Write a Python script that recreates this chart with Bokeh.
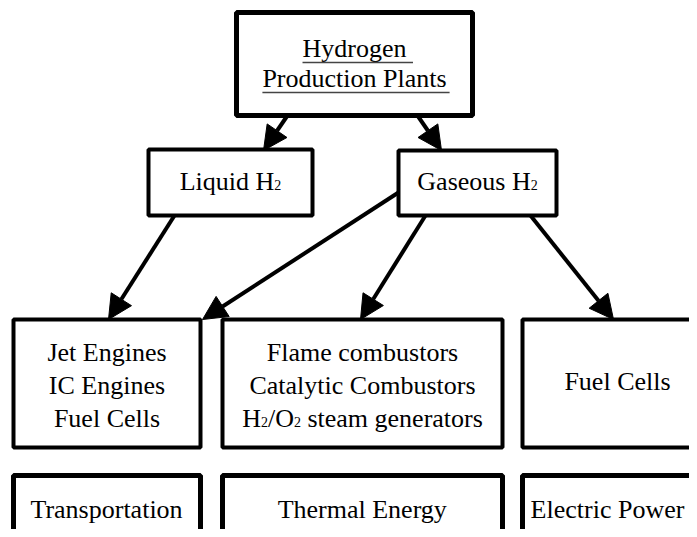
from bokeh.plotting import figure
from bokeh.models import Range1d, Arrow, NormalHead, ColumnDataSource
from bokeh.core.properties import value
from bokeh.embed import file_html
from bokeh.resources import INLINE

FONT = "Liberation Serif"
FS = 26      # main text size, px
SUB = 14     # subscript size, px
FIG_W, FIG_H = 689, 529
BASE_SHIFT = -9   # svg alphabetic baseline correction (main text)
SUB_SHIFT = -6    # same for subscripts

# ---- diagram content ----
node_names = ["top", "liquid", "gaseous", "jet", "comb", "fc",
              "transport", "thermal", "electric"]
node_lines = [
    ["Hydrogen", "Production Plants"],
    ["Liquid H_2"],
    ["Gaseous H_2"],
    ["Jet Engines", "IC Engines", "Fuel Cells"],
    ["Flame combustors", "Catalytic Combustors", "H_2/O_2 steam generators"],
    ["Fuel Cells"],
    ["Transportation"],
    ["Thermal Energy"],
    ["Electric Power"],
]
edges = [("top", "liquid"), ("top", "gaseous"), ("liquid", "jet"),
         ("gaseous", "jet"), ("gaseous", "comb"), ("gaseous", "fc")]

# ---- layout (screen px) ----
node_left = [236, 148, 398, 13, 222, 522, 13, 222, 522]
node_right = [472, 312, 556, 200, 502, 712, 200, 502, 712]
node_top = [12, 149, 150, 319, 319, 319, 475, 475, 475]
node_bottom = [115, 215, 215, 447, 447, 447, 562, 562, 562]
node_lw = [5, 4, 4, 4, 4, 4, 5, 5, 5]
node_text_dx = [0, 0, 0, 0, 0, 0, 0, 0, -10]
node_baselines = [[57, 87], [190], [190], [361, 394, 427], [361, 394, 427],
                  [390], [518], [518], [518]]
edge_start = [(287, 115), (417, 115), (174, 215), (398, 192), (425, 215), (530, 215)]
edge_end = [(263, 150), (441, 150), (108, 319), (202, 319), (360, 319), (613, 319)]

# Times / Liberation Serif advance widths (1/1000 em)
W = {" ": 250, "/": 278, "2": 500, "A": 722, "C": 667, "E": 611, "F": 556,
     "G": 722, "H": 722, "I": 333, "J": 389, "L": 611, "O": 722, "P": 556,
     "T": 611, "a": 444, "b": 500, "c": 444, "d": 500, "e": 444, "f": 333,
     "g": 500, "h": 500, "i": 278, "j": 278, "k": 500, "l": 278, "m": 778,
     "n": 500, "o": 500, "p": 500, "q": 500, "r": 333, "s": 389, "t": 278,
     "u": 500, "v": 500, "w": 722, "x": 500, "y": 500, "z": 444}


def runs_of(s):
    runs, buf, i = [], "", 0
    while i < len(s):
        if s[i] == "_" and i + 1 < len(s):
            if buf:
                runs.append((buf, False))
                buf = ""
            runs.append((s[i + 1], True))
            i += 2
        else:
            buf += s[i]
            i += 1
    if buf:
        runs.append((buf, False))
    return runs


def width(t, size):
    return sum(W.get(ch, 500) for ch in t) * size / 1000.0


p = figure(width=FIG_W, height=FIG_H, x_range=Range1d(0, FIG_W), y_range=Range1d(FIG_H, 0),
           output_backend="svg", toolbar_location=None, min_border=0)
p.axis.visible = False
p.grid.visible = False
p.outline_line_color = None
p.background_fill_color = "white"
p.border_fill_color = "white"

p.quad(left=node_left, right=node_right, top=node_top, bottom=node_bottom,
       fill_color="white", line_color="black", line_width=node_lw)

main = dict(x=[], y=[], text=[])
sub = dict(x=[], y=[], text=[])
ul = dict(x0=[], x1=[], y=[])
for k, name in enumerate(node_names):
    cx = (node_left[k] + node_right[k]) / 2.0 + node_text_dx[k]
    for line, base in zip(node_lines[k], node_baselines[k]):
        runs = runs_of(line)
        total = sum(width(t, SUB if s else FS) for t, s in runs)
        x = cx - total / 2.0
        for t, s in runs:
            size = SUB if s else FS
            lead = len(t) - len(t.lstrip(" "))
            x += width(" " * lead, size)
            t2 = t.lstrip(" ")
            d = sub if s else main
            d["x"].append(x)
            d["y"].append(base + (SUB_SHIFT if s else BASE_SHIFT))
            d["text"].append(t2)
            x += width(t2, size)
        if name == "top":
            ul["x0"].append(cx - total / 2.0)
            ul["x1"].append(cx + total / 2.0 + (width(" ", FS) if line == "Hydrogen" else 3))
            ul["y"].append(base + 5)

p.text(x="x", y="y", text="text", source=ColumnDataSource(main),
       text_font=value(FONT), text_font_size=value(f"{FS}px"),
       text_align="left", text_baseline="alphabetic", text_color="black")
p.text(x="x", y="y", text="text", source=ColumnDataSource(sub),
       text_font=value(FONT), text_font_size=value(f"{SUB}px"),
       text_align="left", text_baseline="alphabetic", text_color="black")
p.segment(x0="x0", x1="x1", y0="y", y1="y", source=ColumnDataSource(ul),
          line_color="#444444", line_width=1.5)

for (xs, ys), (xe, ye) in zip(edge_start, edge_end):
    p.add_layout(Arrow(end=NormalHead(size=24, fill_color="black", line_color="black",
                                      line_width=1),
                       x_start=xs, y_start=ys, x_end=xe, y_end=ye,
                       line_width=4, line_color="black"))

open("out.html", "w").write(file_html(p, INLINE))
